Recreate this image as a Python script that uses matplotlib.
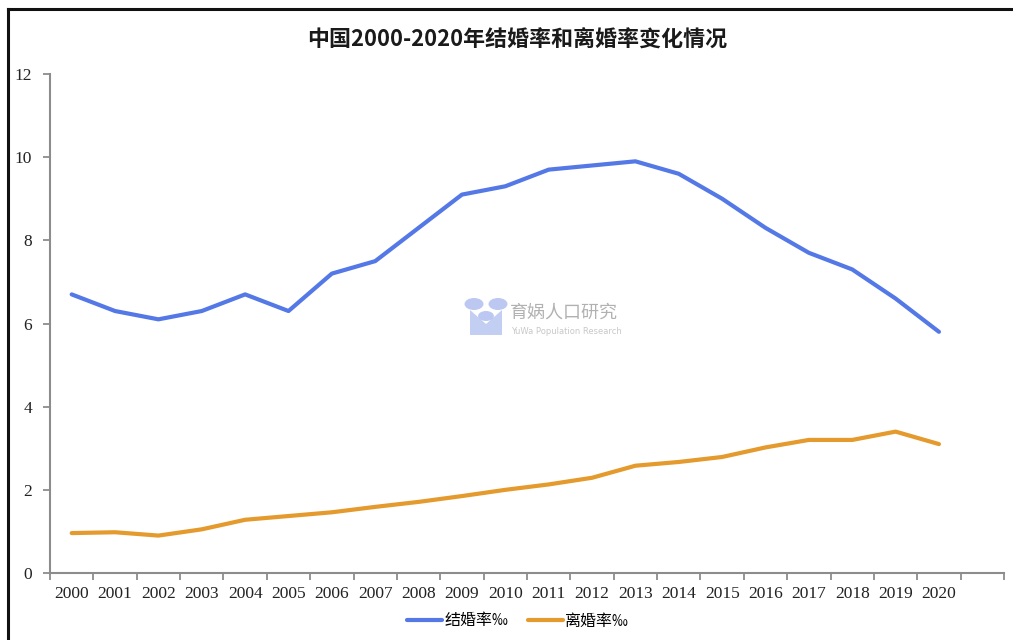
import matplotlib.pyplot as plt
import numpy as np
from matplotlib.lines import Line2D
from matplotlib.patches import Circle, Polygon

years = [str(y) for y in range(2000, 2021)]
marriage = [6.7, 6.3, 6.1, 6.3, 6.7, 6.3, 7.2, 7.5, 8.3, 9.1, 9.3,
            9.7, 9.8, 9.9, 9.6, 9.0, 8.3, 7.7, 7.3, 6.6, 5.8]
divorce = [0.96, 0.98, 0.90, 1.05, 1.28, 1.37, 1.46, 1.59, 1.71, 1.85, 2.00,
           2.13, 2.29, 2.58, 2.67, 2.79, 3.02, 3.20, 3.20, 3.40, 3.10]
yticks = [0, 2, 4, 6, 8, 10, 12]

cjk = ['Noto Sans CJK SC', 'DejaVu Sans']
blue = '#5479e6'
orange = '#e49a2d'
axcol = '#8c8c8c'

W, H = 1013, 640
fig = plt.figure(figsize=(W / 100, H / 100), dpi=100)
ax = fig.add_axes([50 / W, (H - 573) / H, (1004 - 50) / W, (573 - 74) / H])

x = np.arange(len(years))
ax.plot(x, marriage, color=blue, lw=3, label='结婚率‰', solid_capstyle='round')
ax.plot(x, divorce, color=orange, lw=3, label='离婚率‰', solid_capstyle='round')

ax.set_xlim(-0.5, len(years) + 0.5)
ax.set_ylim(0, 12)
ax.set_yticks(yticks)
ax.set_xticks(x)
ax.set_xticklabels(years)
ax.set_xticks(np.arange(-0.5, len(years) + 1), minor=True)
ax.tick_params(axis='x', which='major', length=0, pad=9)
ax.tick_params(axis='x', which='minor', length=5, direction='out', color=axcol, width=1.3)
ax.tick_params(axis='y', length=5, direction='out', color=axcol, width=1.3, pad=8)
for lab in ax.get_xticklabels() + ax.get_yticklabels():
    lab.set_fontfamily('Liberation Serif')
    lab.set_fontsize(12.5)
    lab.set_color('#222222')
for s in ['top', 'right']:
    ax.spines[s].set_visible(False)
for s in ['left', 'bottom']:
    ax.spines[s].set_color(axcol)
    ax.spines[s].set_linewidth(1.5)

fig.text(517 / W, 1 - 40 / H, '中国2000-2020年结婚率和离婚率变化情况', ha='center', va='center',
         family=cjk, fontsize=15.8, fontweight='bold', color='#1a1a1a')

leg = fig.legend(loc='center', bbox_to_anchor=(518 / W, 1 - 621 / H), ncol=2, frameon=False,
                 prop={'family': cjk, 'size': 11.5}, handlelength=2.2, columnspacing=1.2,
                 handletextpad=0.15)

# outer frame (left and top edges)
fig.add_artist(Line2D([8 / W, 8 / W], [0, 1 - 9 / H], color='#111111', lw=2.2,
                      transform=fig.transFigure))
fig.add_artist(Line2D([8 / W, 1], [1 - 9 / H, 1 - 9 / H], color='#111111', lw=2.2,
                      transform=fig.transFigure))

# watermark
wm = '#b5c2f0'
fig.add_artist(Polygon([[470 / W, 1 - 310 / H], [486 / W, 1 - 324 / H], [502 / W, 1 - 310 / H],
                        [502 / W, 1 - 335 / H], [470 / W, 1 - 335 / H]],
                       closed=True, transform=fig.transFigure, color=wm, alpha=0.8, lw=0))
for cx, cy, r in [(474, 304, 6), (498, 304, 6), (486, 316, 5)]:
    fig.add_artist(Circle((cx / W, 1 - cy / H), r / H, transform=fig.transFigure,
                          color=wm, alpha=0.9, lw=0))
fig.text(510 / W, 1 - 313 / H, '育娲人口研究', ha='left', va='center', family=cjk,
         fontsize=13, color='#a9a9a9', alpha=0.9)
fig.text(511 / W, 1 - 331 / H, 'YuWa Population Research', ha='left', va='center',
         fontsize=6, color='#c8c8c8')

fig.savefig('out.png', dpi=100, facecolor='white')
